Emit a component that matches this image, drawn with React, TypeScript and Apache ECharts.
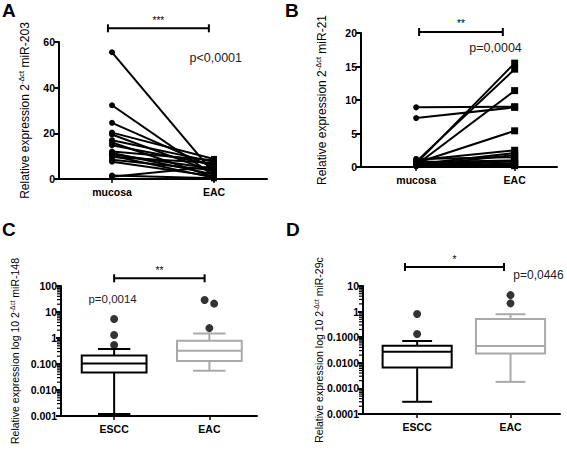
import React, { useEffect, useRef } from "react";
import * as echarts from "echarts";

// ---------- data ----------
const pairGroups = ["mucosa", "EAC"];
const boxGroups = ["ESCC", "EAC"];

// Panel A: miR-203, paired mucosa -> EAC
const miR203Mucosa = [55.5, 32.3, 24.6, 20.3, 19.5, 17.0, 16.0, 14.8, 12.0, 11.4, 10.8, 10.2, 9.6, 8.4, 7.6, 1.5, 1.0];
const miR203EAC = [2.5, 1.5, 5.0, 8.8, 3.0, 7.5, 0.8, 6.2, 8.2, 2.0, 4.5, 0.5, 7.0, 3.8, 1.2, 0.3, 5.5];

// Panel B: miR-21, paired mucosa -> EAC
const miR21Mucosa = [8.9, 7.3, 0.5, 0.8, 0.3, 0.6, 1.0, 0.4, 0.2, 1.2, 0.7, 0.1, 0.9, 0.3, 0.5];
const miR21EAC = [9.0, 8.9, 15.5, 14.6, 11.4, 5.4, 2.5, 2.1, 1.8, 1.45, 1.0, 0.55, 0.2, 0.3, 0.8];

// Panel C: miR-148 box stats [min, q1, median, q3, max]
const miR148ESCC = [0.0012, 0.047, 0.105, 0.21, 0.38];
const miR148EAC = [0.055, 0.13, 0.32, 0.79, 1.5];
const miR148ESCCOutliers = [5.4, 1.3, 0.54];
const miR148EACOutliers = [29, 21, 2.4];

// Panel D: miR-29c box stats [min, q1, median, q3, max]
const miR29cESCC = [0.0003, 0.0066, 0.027, 0.046, 0.071];
const miR29cEAC = [0.0018, 0.023, 0.045, 0.51, 0.79];
const miR29cESCCOutliers = [0.81, 0.133];
const miR29cEACOutliers = [4.4, 2.1];

// tick labels
const logLabelsC = ["0.001", "0.010", "0.100", "1", "10", "100"];
const logLabelsD = ["0.0001", "0.0010", "0.0100", "0.1000", "1", "10"];

// annotations (in data units of each panel)
const panelLetters = ["A", "B", "C", "D"];
const pValues = ["p<0,0001", "p=0,0004", "p=0,0014", "p=0,0446"];
const stars = ["***", "**", "**", "*"];
const bracketLevels = [66, 20.15, 198, 55];
const bracketEnds = [[-0.04, 0.95], [0.03, 0.88], [0, 0.95], [-0.13, 0.93]];
const pValuePos = [[0.76, 53], [0.54, 17.8], [-0.27, 31], [1.03, 27]];

// ---------- styling ----------
const FONT = "'Liberation Sans', Arial, Helvetica, sans-serif";
const BLACK = "#000";
const GREY = "#a9a9a9";
const boxColors = [BLACK, GREY];
const pFontSize = [12.5, 12.5, 11.5, 12];

const grids = [
  { left: 59, top: 42, width: 208, height: 137 },
  { left: 361, top: 33, width: 196, height: 134 },
  { left: 61, top: 286, width: 196, height: 130 },
  { left: 363, top: 286, width: 197, height: 128 },
];
const xRanges = [
  [-0.52, 1.52],
  [-0.56, 1.43],
  [-0.558, 1.5],
  [-0.58, 1.53],
];
const boxHalf = [0, 0, 0.34, 0.37];
const capHalf = [0, 0, 0.17, 0.16];

function xAxis(i: number, groups: string[]) {
  return {
    type: "value",
    gridIndex: i,
    min: xRanges[i][0],
    max: xRanges[i][1],
    splitLine: { show: false },
    axisLine: { show: true, onZero: false, lineStyle: { color: BLACK, width: 2 } },
    axisTick: { show: true, customValues: [0, 1], length: 4, lineStyle: { color: BLACK, width: 1.5 } },
    axisLabel: {
      show: true,
      customValues: [0, 1],
      formatter: (v: number) => groups[Math.round(v)] ?? "",
      color: BLACK,
      fontFamily: FONT,
      fontWeight: "bold",
      fontSize: 10.5,
      margin: 7,
    },
  };
}

function yName(base: string, sup: string, rest: string) {
  return base + "{sup|" + sup + "}" + rest;
}

function yTitleStyle(size: number) {
  return {
    color: BLACK,
    fontFamily: FONT,
    fontSize: size,
    lineHeight: size + 3,
    rich: {
      sup: { fontFamily: FONT, fontSize: size * 0.62, lineHeight: size * 0.62, verticalAlign: "top", color: BLACK },
    },
  };
}

const yLabelStyle = {
  color: BLACK,
  fontFamily: FONT,
  fontWeight: "bold",
  fontSize: 10.5,
  margin: 4,
};

const yAxisLine = { show: true, onZero: false, lineStyle: { color: BLACK, width: 2 } };
const yAxisTick = { show: true, length: 5, lineStyle: { color: BLACK, width: 2 } };

function minorTickValues(minExp: number, maxExp: number) {
  const out: number[] = [];
  for (let e = minExp; e < maxExp; e++) {
    for (let k = 2; k <= 9; k++) out.push(k * Math.pow(10, e));
  }
  return out;
}

function pairSeries(i: number, a: number[], b: number[], rectSize: number) {
  return a.map((v, k) => ({
    type: "line",
    xAxisIndex: i,
    yAxisIndex: i,
    data: [
      { value: [0, v], symbol: "circle", symbolSize: 6 },
      { value: [1, b[k]], symbol: "rect", symbolSize: rectSize },
    ],
    showSymbol: true,
    itemStyle: { color: BLACK },
    lineStyle: { color: BLACK, width: 2 },
    z: 3,
  }));
}

function boxSeries(i: number, esc: number[], eac: number[]) {
  return {
    type: "custom",
    xAxisIndex: i,
    yAxisIndex: i,
    data: [
      [0, ...esc],
      [1, ...eac],
    ],
    encode: { x: 0, y: [1, 2, 3, 4, 5] },
    renderItem: (params: any, api: any) => {
      const x = api.value(0);
      const mn = api.value(1);
      const q1 = api.value(2);
      const md = api.value(3);
      const q3 = api.value(4);
      const mx = api.value(5);
      const color = boxColors[params.dataIndex];
      const hw = boxHalf[i];
      const cw = capHalf[i];
      const p = (dx: number, v: number) => api.coord([x + dx, v]);
      const tl = p(-hw, q3);
      const br = p(hw, q1);
      const st = { stroke: color, lineWidth: 2, fill: "none" };
      const ln = (a: number[], b: number[]) => ({
        type: "line",
        shape: { x1: a[0], y1: a[1], x2: b[0], y2: b[1] },
        style: st,
      });
      return {
        type: "group",
        children: [
          ln(p(0, q3), p(0, mx)),
          ln(p(0, q1), p(0, mn)),
          ln(p(-cw, mx), p(cw, mx)),
          ln(p(-cw, mn), p(cw, mn)),
          {
            type: "rect",
            shape: { x: tl[0], y: tl[1], width: br[0] - tl[0], height: br[1] - tl[1] },
            style: { stroke: color, lineWidth: 2, fill: "#fff" },
          },
          ln(p(-hw, md), p(hw, md)),
        ],
      };
    },
    z: 2,
  };
}

// outliers that nearly overlap are nudged sideways, as the plotting program does
function outlierSeries(i: number, esc: number[], eac: number[]) {
  const pts: number[][] = [];
  const add = (x: number, vals: number[]) => {
    const sorted = [...vals].sort((a, b) => b - a);
    const dx = sorted.map(() => 0);
    for (let k = 1; k < sorted.length; k++) {
      if (Math.log10(sorted[k - 1]) - Math.log10(sorted[k]) < 0.25 && dx[k - 1] === 0) {
        dx[k - 1] = -0.05;
        dx[k] = 0.05;
      }
    }
    sorted.forEach((v, k) => pts.push([x + dx[k], v]));
  };
  add(0, esc);
  add(1, eac);
  return {
    type: "scatter",
    xAxisIndex: i,
    yAxisIndex: i,
    data: pts,
    symbol: "circle",
    symbolSize: 8,
    itemStyle: { color: BLACK },
    z: 4,
  };
}

function minorTickSeries(i: number, minExp: number, maxExp: number) {
  return {
    type: "custom",
    xAxisIndex: i,
    yAxisIndex: i,
    data: minorTickValues(minExp, maxExp).map((v) => [xRanges[i][0], v]),
    encode: { x: 0, y: 1 },
    silent: true,
    renderItem: (_params: any, api: any) => {
      const pt = api.coord([api.value(0), api.value(1)]);
      return {
        type: "line",
        shape: { x1: pt[0] - 4, y1: pt[1], x2: pt[0], y2: pt[1] },
        style: { stroke: BLACK, lineWidth: 1.2 },
      };
    },
    z: 5,
  };
}

const yNameCommon = {
  nameLocation: "middle",
  nameMoveOverlap: false,
};

export default function App() {
  const ref = useRef<HTMLDivElement>(null);

  useEffect(() => {
    document.body.style.margin = "0";
    if (!ref.current) return;
    const chart = echarts.init(ref.current, undefined, { renderer: "svg" });

    const option: any = {
      animation: false,
      backgroundColor: "#fff",
      grid: grids.map((g) => ({ ...g, containLabel: false, outerBoundsMode: "none" })),
      xAxis: [
        xAxis(0, pairGroups),
        xAxis(1, pairGroups),
        xAxis(2, boxGroups),
        xAxis(3, boxGroups),
      ],
      yAxis: [
        {
          type: "value",
          gridIndex: 0,
          min: 0,
          max: 60,
          interval: 20,
          splitLine: { show: false },
          axisLine: yAxisLine,
          axisTick: yAxisTick,
          axisLabel: yLabelStyle,
          name: yName("Relative expression 2", "-Δct", " miR-203"),
          ...yNameCommon,
          nameGap: 26.5,
          nameTextStyle: yTitleStyle(12),
        },
        {
          type: "value",
          gridIndex: 1,
          min: 0,
          max: 20,
          interval: 5,
          splitLine: { show: false },
          axisLine: yAxisLine,
          axisTick: yAxisTick,
          axisLabel: yLabelStyle,
          name: yName("Relative expression 2", "-Δct", " miR-21"),
          ...yNameCommon,
          nameGap: 31.5,
          nameTextStyle: yTitleStyle(12),
        },
        {
          type: "log",
          logBase: 10,
          gridIndex: 2,
          min: 0.001,
          max: 100,
          splitLine: { show: false },
          axisLine: yAxisLine,
          axisTick: yAxisTick,
          axisLabel: {
            ...yLabelStyle,
            formatter: (v: number) => logLabelsC[Math.round(Math.log10(v)) + 3] ?? "",
          },
          name: yName("Relative expression log 10 2", "-Δct", " miR-148"),
          ...yNameCommon,
          nameGap: 39,
          nameTextStyle: yTitleStyle(10.5),
        },
        {
          type: "log",
          logBase: 10,
          gridIndex: 3,
          min: 0.0001,
          max: 10,
          splitLine: { show: false },
          axisLine: yAxisLine,
          axisTick: yAxisTick,
          axisLabel: {
            ...yLabelStyle,
            formatter: (v: number) => logLabelsD[Math.round(Math.log10(v)) + 4] ?? "",
          },
          name: yName("Relative expression log 10 2", "-Δct", " miR-29c"),
          ...yNameCommon,
          nameGap: 37,
          nameTextStyle: yTitleStyle(10.5),
        },
      ],
      series: [
        ...pairSeries(0, miR203Mucosa, miR203EAC, 6),
        ...pairSeries(1, miR21Mucosa, miR21EAC, 7),
        boxSeries(2, miR148ESCC, miR148EAC),
        outlierSeries(2, miR148ESCCOutliers, miR148EACOutliers),
        minorTickSeries(2, -3, 2),
        boxSeries(3, miR29cESCC, miR29cEAC),
        outlierSeries(3, miR29cESCCOutliers, miR29cEACOutliers),
        minorTickSeries(3, -4, 1),
      ],
    };
    chart.setOption(option);

    // annotations placed through the axes' own scales
    const graphics: any[] = [];
    const letterPos = [
      [2, 1],
      [285, 1],
      [2, 220],
      [286, 220],
    ];
    panelLetters.forEach((L, i) => {
      graphics.push({
        type: "text",
        x: letterPos[i][0],
        y: letterPos[i][1],
        style: { text: L, font: `bold 19px ${FONT}`, fill: BLACK },
      });
    });
    for (let i = 0; i < 4; i++) {
      const finder = { xAxisIndex: i, yAxisIndex: i };
      const a = chart.convertToPixel(finder, [bracketEnds[i][0], bracketLevels[i]]) as number[];
      const b = chart.convertToPixel(finder, [bracketEnds[i][1], bracketLevels[i]]) as number[];
      const st = { stroke: BLACK, lineWidth: 2 };
      graphics.push(
        { type: "line", shape: { x1: a[0], y1: a[1], x2: b[0], y2: b[1] }, style: st },
        { type: "line", shape: { x1: a[0], y1: a[1] - 4, x2: a[0], y2: a[1] + 4 }, style: st },
        { type: "line", shape: { x1: b[0], y1: b[1] - 4, x2: b[0], y2: b[1] + 4 }, style: st },
        {
          type: "text",
          x: (a[0] + b[0]) / 2,
          y: a[1] - 3,
          style: {
            text: stars[i],
            font: `10px ${FONT}`,
            fill: BLACK,
            textAlign: "center",
            textVerticalAlign: "bottom",
          },
        }
      );
      const pp = chart.convertToPixel(finder, pValuePos[i]) as number[];
      graphics.push({
        type: "text",
        x: pp[0],
        y: pp[1],
        style: {
          text: pValues[i],
          font: `${pFontSize[i]}px ${FONT}`,
          fill: "#222",
          textAlign: "left",
          textVerticalAlign: "middle",
        },
      });
    }
    chart.setOption({ graphic: graphics });

    return () => {
      chart.dispose();
    };
  }, []);

  return <div ref={ref} style={{ width: 567, height: 452 }} />;
}
